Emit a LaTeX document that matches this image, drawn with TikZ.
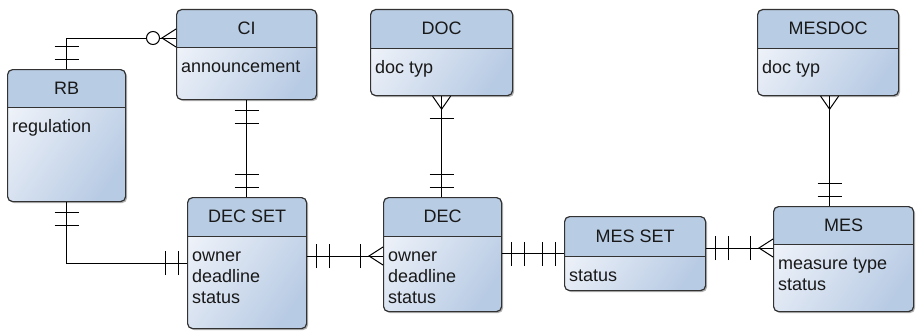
\documentclass[tikz,border=0pt]{standalone}
\usepackage{fontspec}
\setmainfont{Liberation Sans}
\usetikzlibrary{calc,shadows}
\definecolor{hdr}{RGB}{184,204,228}
\definecolor{bodyL}{RGB}{238,242,249}
\definecolor{bodyD}{RGB}{184,203,228}
\definecolor{edgecol}{RGB}{50,50,50}
\definecolor{txt}{RGB}{25,25,25}
\newcommand\ErBarsV[2]{\draw[conn] ([shift={(-12pt,#2*10pt)}]#1) -- ++(24pt,0pt) ([shift={(-12pt,#2*23pt)}]#1) -- ++(24pt,0pt);}
\newcommand\ErBarsH[2]{\draw[conn] ([shift={(#2*9pt,-12pt)}]#1) -- ++(0pt,24pt) ([shift={(#2*22pt,-12pt)}]#1) -- ++(0pt,24pt);}
\newcommand\ErBarV[2]{\draw[conn] ([shift={(-12pt,#2*22pt)}]#1) -- ++(24pt,0pt);}
\newcommand\ErBarH[2]{\draw[conn] ([shift={(#2*23pt,-12pt)}]#1) -- ++(0pt,24pt);}
\newcommand\ErCrowH[2]{\draw[conn] ([yshift=9pt]#1) -- ([xshift=#2*14pt]#1) -- ([yshift=-9pt]#1);}
\newcommand\ErCrowV[2]{\draw[conn] ([xshift=9pt]#1) -- ([yshift=#2*13pt]#1) -- ([xshift=-9pt]#1);}
\begin{document}
\begin{tikzpicture}[x=1pt,y=1pt,
  entity/.style={draw=edgecol, line width=1.2pt, rounded corners=5pt, inner sep=0pt, anchor=north west,
    top color=bodyL, bottom color=bodyD, shading angle=55,
    drop shadow={shadow xshift=1.5pt, shadow yshift=-1.5pt, opacity=0.3, fill=black},
    path picture={
      \fill[hdr, sharp corners] (path picture bounding box.north west) rectangle ([yshift=-#1pt]path picture bounding box.north east);
      \draw[edgecol, line width=1.2pt, sharp corners] ([yshift=-#1pt]path picture bounding box.north west) -- ([yshift=-#1pt]path picture bounding box.north east);}},
  title/.style={font=\fontsize{18}{21}\selectfont, text=txt, inner sep=0pt},
  attr/.style={font=\fontsize{18}{21}\selectfont, text=txt, inner sep=0pt, anchor=north west, align=left},
  conn/.style={draw=black, line width=1pt}]
\useasboundingbox (0,0) rectangle (916,333);

% entities
\node[entity=38, minimum width=118pt, minimum height=132pt] (rb) at (7,264) {};
\node[title] (rbT) at ([yshift=-19pt]rb.north) {RB};
\node[attr] (rbA) at ([xshift=5pt,yshift=-49.5pt]rb.north west) {\rule{0pt}{14pt}regulation};

\node[entity=38, minimum width=140pt, minimum height=90pt] (ci) at (176,324) {};
\node[title] (ciT) at ([yshift=-19pt]ci.north) {CI};
\node[attr] (ciA) at ([xshift=5pt,yshift=-49.5pt]ci.north west) {\rule{0pt}{14pt}announcement};

\node[entity=39, minimum width=142pt, minimum height=86pt] (doc) at (370,324) {};
\node[title] (docT) at ([yshift=-19.5pt]doc.north) {DOC};
\node[attr] (docA) at ([xshift=5pt,yshift=-50.5pt]doc.north west) {\rule{0pt}{14pt}doc typ};

\node[entity=39, minimum width=141pt, minimum height=86pt] (mesdoc) at (757,324) {};
\node[title] (mesdocT) at ([yshift=-19.5pt]mesdoc.north) {MESDOC};
\node[attr] (mesdocA) at ([xshift=5pt,yshift=-50.5pt]mesdoc.north west) {\rule{0pt}{14pt}doc typ};

\node[entity=39, minimum width=119pt, minimum height=131pt] (decset) at (187,136) {};
\node[title] (decsetT) at ([yshift=-19.5pt]decset.north) {DEC SET};
\node[attr] (decsetA) at ([xshift=5pt,yshift=-50.5pt]decset.north west) {\rule{0pt}{14pt}owner\\deadline\\status};

\node[entity=39, minimum width=118pt, minimum height=114pt] (dec) at (383,136) {};
\node[title] (decT) at ([yshift=-19.5pt]dec.north) {DEC};
\node[attr] (decA) at ([xshift=5pt,yshift=-50.5pt]dec.north west) {\rule{0pt}{14pt}owner\\deadline\\status};

\node[entity=40, minimum width=141pt, minimum height=74pt] (messet) at (564,117) {};
\node[title] (messetT) at ([yshift=-20pt]messet.north) {MES SET};
\node[attr] (messetA) at ([xshift=5pt,yshift=-51.5pt]messet.north west) {\rule{0pt}{14pt}status};

\node[entity=38, minimum width=140pt, minimum height=105pt] (mes) at (773,127) {};
\node[title] (mesT) at ([yshift=-19pt]mes.north) {MES};
\node[attr] (mesA) at ([xshift=5pt,yshift=-49.5pt]mes.north west) {\rule{0pt}{14pt}measure type\\status};

% RB -- CI
\coordinate (ciL) at ([yshift=-29pt]ci.north west);
\draw[conn] (rb.north) |- (ciL);
\ErBarsV{rb.north}{1}
\ErCrowH{ciL}{-1}
\draw[conn, fill=white] ([xshift=-23pt]ciL) circle (6.5pt);

% CI -- DEC SET
\coordinate (dsT) at (ci.south |- decset.north);
\draw[conn] (ci.south) -- (dsT);
\ErBarsV{ci.south}{-1}
\ErBarsV{dsT}{1}

% RB -- DEC SET
\coordinate (dsL) at ([yshift=-66pt]decset.north west);
\draw[conn] (rb.south) |- (dsL);
\ErBarsV{rb.south}{-1}
\ErBarsH{dsL}{-1}

% DEC SET -- DEC
\coordinate (decL) at ([yshift=-59pt]dec.north west);
\coordinate (dsR) at (decset.east |- decL);
\draw[conn] (dsR) -- (decL);
\ErBarsH{dsR}{1}
\ErCrowH{decL}{-1}
\ErBarH{decL}{-1}

% DEC -- MES SET
\coordinate (msL) at (messet.west);
\coordinate (decR) at (dec.east |- msL);
\draw[conn] (decR) -- (msL);
\ErBarsH{decR}{1}
\ErBarsH{msL}{-1}

% MES SET -- MES
\coordinate (msR) at ([yshift=-32pt]messet.north east);
\coordinate (mesL) at (mes.west |- msR);
\draw[conn] (msR) -- (mesL);
\ErBarsH{msR}{1}
\ErCrowH{mesL}{-1}
\ErBarH{mesL}{-1}

% DOC -- DEC
\coordinate (docB) at (doc.south);
\coordinate (decTop) at (docB |- dec.north);
\draw[conn] (docB) -- (decTop);
\ErCrowV{docB}{-1}
\ErBarV{docB}{-1}
\ErBarsV{decTop}{1}

% MESDOC -- MES
\coordinate (mdB) at ([xshift=1.5pt]mesdoc.south);
\coordinate (mesTop) at (mdB |- mes.north);
\draw[conn] (mdB) -- (mesTop);
\ErCrowV{mdB}{-1}
\ErBarsV{mesTop}{1}
\end{tikzpicture}
\end{document}
